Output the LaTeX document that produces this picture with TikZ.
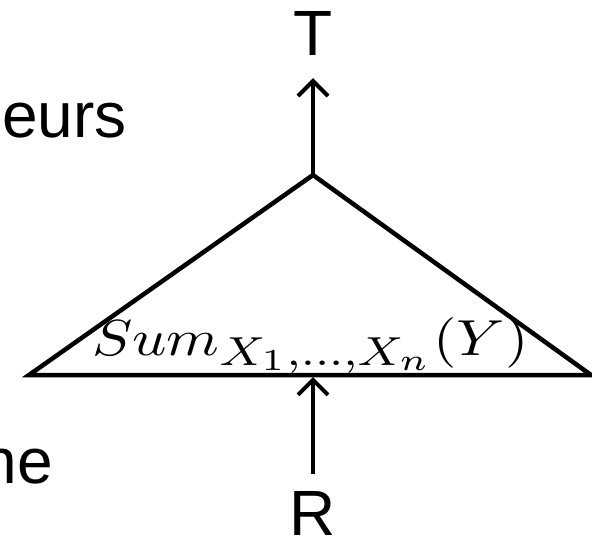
\documentclass[tikz,border=0pt]{standalone}
\usepackage{fontspec}
\setmainfont{Liberation Sans}
\usetikzlibrary{arrows.meta}
\DeclareMathSizes{10}{10}{8}{6.4}

\begin{document}
\begin{tikzpicture}[x=1pt, y=-1pt, >={Straight Barb[length=15pt, width=30pt]},
    lbl/.style={font=\fontsize{64}{70}\selectfont, inner sep=0pt},
    arr/.style={->, line width=4pt}]
    \useasboundingbox (0,0) rectangle (592,546);
    \clip (0,0) rectangle (592,546);

    % cut-off words on the left
    \node (eurs) [lbl, anchor=base west] at (2,137) {eurs};
    \node (ne) [lbl, anchor=base east] at (53,483) {ne};

    % triangle
    \coordinate (apex) at (313,175);
    \coordinate (left) at (29,375);
    \coordinate (right) at (591,375);
    \draw [line width=4.5pt, line join=miter] (left) -- (apex) -- (right) -- cycle;
    \node (sum) [anchor=base west, inner sep=0pt] at (92,355) {\resizebox{436pt}{38pt}{$Sum_{X_1,\ldots,X_n}(Y)$}};

    % input and output
    \node (T) [lbl, anchor=base] at (313,55) {T};
    \node (R) [lbl, anchor=base] at (313,535) {R};
    \draw [arr, shorten >=23pt] (apex) -- (T.south);
    \draw [arr, shorten <=17pt, shorten >=2pt] (R.north) -- (313,375);
\end{tikzpicture}
\end{document}
